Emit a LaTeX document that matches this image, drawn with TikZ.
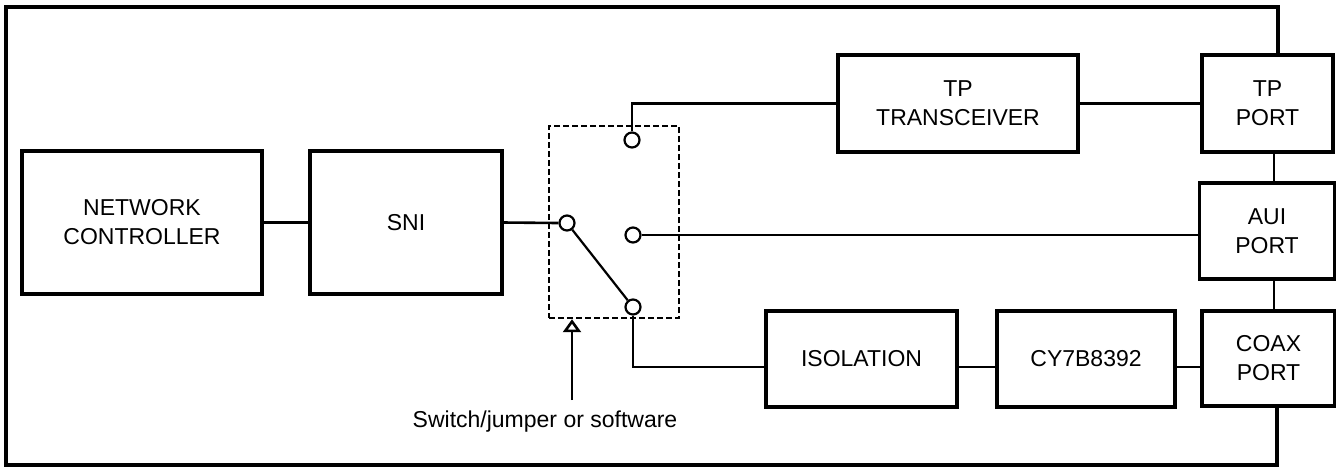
\documentclass[tikz,border=0pt]{standalone}
\usepackage{fontspec}
\setmainfont{Liberation Sans}
\usetikzlibrary{arrows.meta,calc}
\tikzset{
  block/.style={
    draw,
    shape = rectangle,
    line width = 1.6pt,
    inner sep = 0pt,
    align = center,
    font = \fontsize{11.5}{14.5}\selectfont
  },
  contact/.style={
    draw,
    shape = circle,
    line width = 1.1pt,
    fill = white,
    minimum size = 7.5pt,
    inner sep = 0pt
  },
  wire/.style={
    line width = 1.3pt
  },
  frame/.style={
    line width = 1.8pt
  },
  note/.style={
    font = \fontsize{11.5}{14.5}\selectfont,
    inner sep = 2pt
  }
}

\begin{document}
\begin{tikzpicture}[x=0.5pt,y=-0.5pt]
    \useasboundingbox (0,0) rectangle (1336,468);
    % blocks
    \node[block, minimum width=120pt, minimum height=71.5pt] (nc) at (142,222.5) {NETWORK\\CONTROLLER};
    \node[block, minimum width=96pt, minimum height=71.5pt] (sni) at (406,222.5) {SNI};
    \node[block, minimum width=120pt, minimum height=48.5pt] (tptrx) at (958,103.5) {TP\\TRANSCEIVER};
    \node[block, minimum width=95.5pt, minimum height=48pt] (iso) at (861.5,359) {ISOLATION};
    \node[block, minimum width=89pt, minimum height=48pt] (cy) at (1086,359) {CY7B8392};
    \node[block, minimum width=65.5pt, minimum height=48.5pt] (tpport) at (1267.5,103.5) {TP\\PORT};
    \node[block, minimum width=67.5pt, minimum height=48pt] (aui) at (1267,231) {AUI\\PORT};
    \node[block, minimum width=66.5pt, minimum height=47.5pt] (coax) at (1268.5,358.5) {COAX\\PORT};
    % switch
    \node[draw, line width=1.2pt, dash pattern=on 3pt off 1.5pt, minimum width=65pt, minimum height=96pt] (sw) at (614,222) {};
    \foreach \n/\x/\y in {pole/567/223, ctop/632/140, cmid/633/235, cbot/633/307}{
        \node[contact] (\n) at (\x,\y) {};
    }
    \draw[line width=1.1pt] (pole) -- (cbot);
    % connections
    \draw[wire] (nc.east) -- (sni.west);
    \draw[wire] (sni.east) -- (pole.west);
    \draw[wire] (ctop.north) |- (tptrx.west);
    \draw[wire] (tptrx.east) -- (tpport.west);
    \draw[wire] (cmid.east) -- (cmid.east -| aui.west);
    \draw[wire] (cbot.south) |- ([yshift=-4pt]iso.west);
    \draw[wire] ([yshift=-4pt]iso.east) -- ([yshift=-4pt]cy.west);
    \draw[wire] ([yshift=-4pt]cy.east) -- ([yshift=-4pt]cy.east -| coax.west);
    \draw[wire] ([xshift=3.25pt]tpport.south) -- ([xshift=3.25pt]tpport.south |- aui.north);
    \draw[wire] ([xshift=3.5pt]aui.south) -- ([xshift=3.5pt]aui.south |- coax.north);
    % enclosure
    \draw[frame] ([xshift=5.25pt]tpport.north) |- (6,7) -- (6,465) -| ([xshift=4.25pt]coax.south);
    % switch control
    \coordinate (ctl) at (572,400);
    \draw[line width=1.3pt, -{Triangle[open, length=6.5pt, width=9pt]}] (ctl) -- (ctl |- sw.south);
    \node[note] (swnote) at (545,422) {Switch/jumper or software};
\end{tikzpicture}
\end{document}
